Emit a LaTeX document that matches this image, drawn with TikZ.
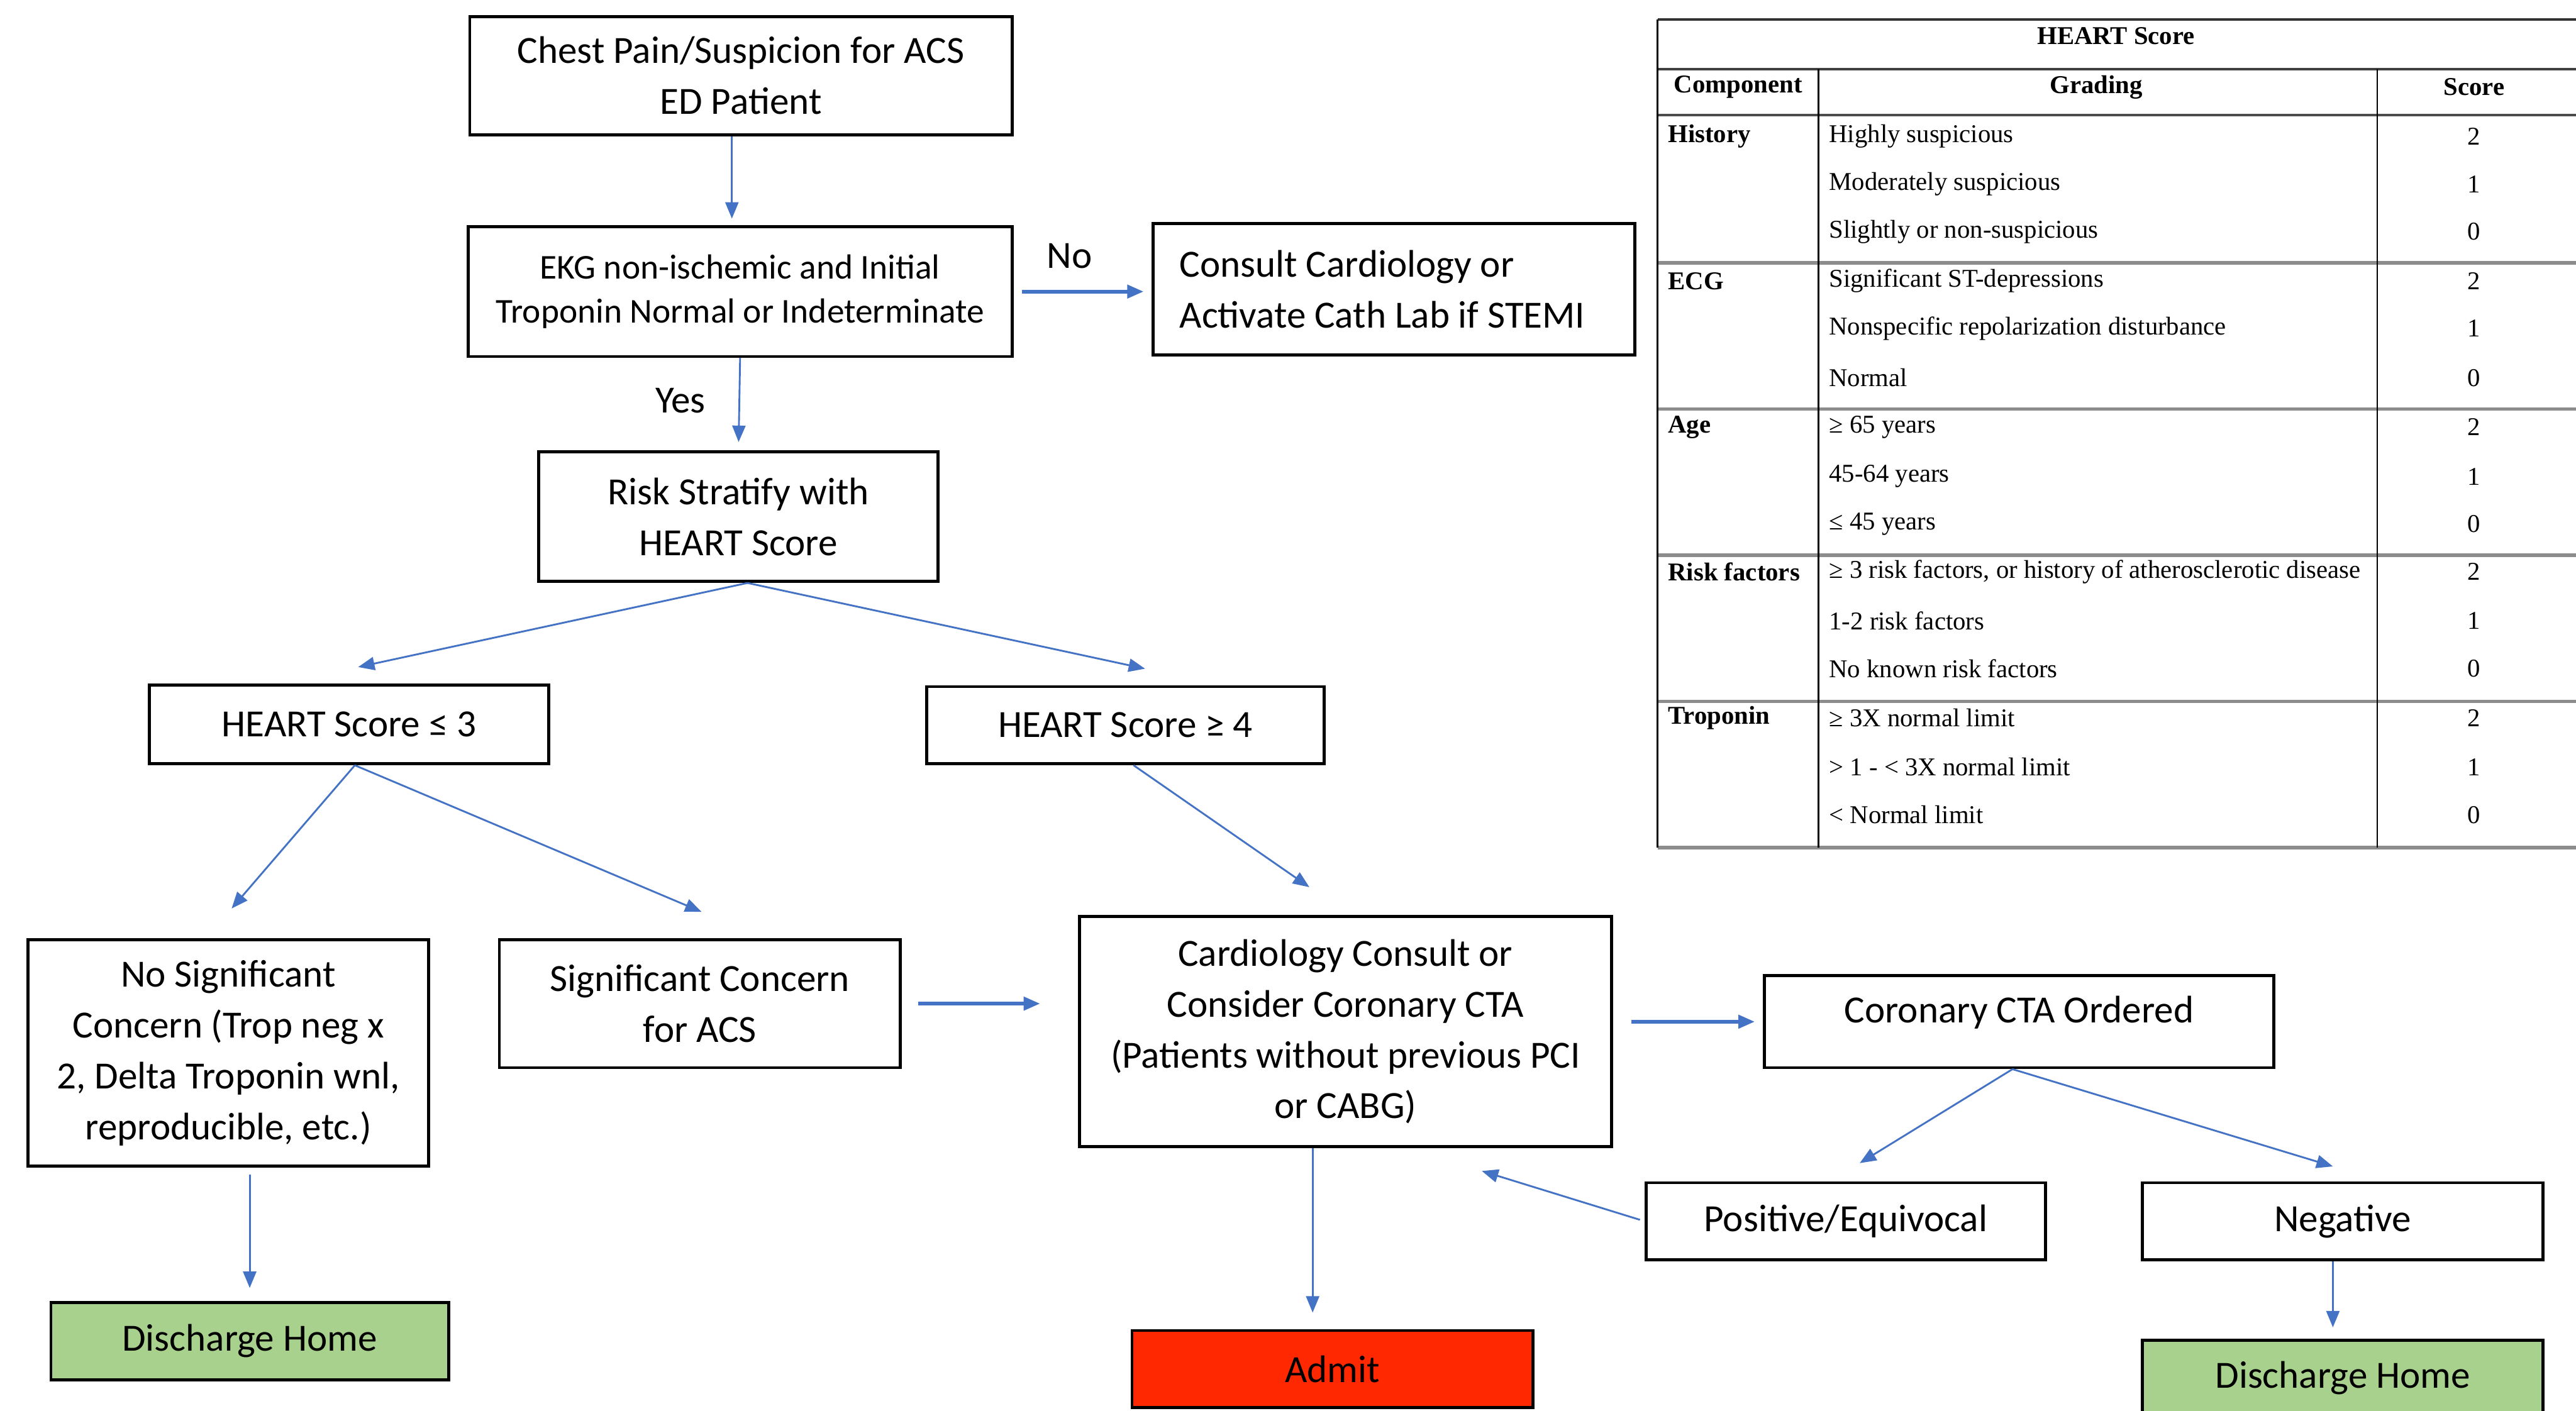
\documentclass[tikz,border=0pt]{standalone}
\usepackage{fontspec}
\setmainfont{Carlito}
\newfontfamily\tabfont{Liberation Serif}
\usepackage{xcolor}
\usetikzlibrary{positioning,calc,arrows.meta}

\definecolor{flowblue}{RGB}{68,114,196}
\definecolor{homegreen}{RGB}{169,209,142}
\definecolor{admitred}{RGB}{255,40,0}
\definecolor{rulegray}{RGB}{140,140,140}

\tikzset{
  box/.style={draw, line width=0.9pt, align=center, inner sep=0pt, font=\fontsize{11.7}{15.5}\selectfont},
  ekgfont/.style={font=\fontsize{10.6}{13.5}\selectfont},
  flow/.style={draw=flowblue, line width=0.55pt, -{Triangle[length=5pt,width=4pt]}},
  flowthick/.style={flow, line width=1.1pt},
  lbl/.style={inner sep=0pt, font=\fontsize{11.7}{15.5}\selectfont},
  tabtxt/.style={inner sep=0pt, font=\tabfont\fontsize{7.8}{9}\selectfont},
  tabhead/.style={tabtxt, font=\tabfont\bfseries\fontsize{7.8}{9}\selectfont}
}

\begin{document}
\begin{tikzpicture}[x=0.5pt, y=-0.5pt]
    \useasboundingbox (0,0) rectangle (1568,859);

    % flow chart
    \node [box, minimum width=165pt, minimum height=36pt] (start) at (451,46) {Chest Pain/Suspicion for ACS\\ED Patient};
    \node [box, ekgfont, minimum width=165.5pt, minimum height=39.5pt] (ekg) at (450.5,177.5) {EKG non-ischemic and Initial\\Troponin Normal or Indeterminate};
    \node [box, align=flush left, text width=130.5pt, inner xsep=8pt, minimum height=40pt] (consult) at (848.5,176) {Consult Cardiology or\\Activate Cath Lab if STEMI};
    \node [box, minimum width=121.5pt, minimum height=39.5pt] (risk) at (449.5,314.5) {Risk Stratify with\\HEART Score};
    \node [box, minimum width=121.5pt, minimum height=24pt] (low) at (212.5,441) {HEART Score ≤ 3};
    \node [box, minimum width=121pt, minimum height=23.5pt] (high) at (685,441.5) {HEART Score ≥ 4};
    \node [box, minimum width=122pt, minimum height=69pt] (nosig) at (139,641) {No Significant\\Concern (Trop neg x\\2, Delta Troponin wnl,\\reproducible, etc.)};
    \node [box, minimum width=122pt, minimum height=39pt] (sig) at (426,611) {Significant Concern\\for ACS};
    \node [box, minimum width=162pt, minimum height=70pt] (cardio) at (819,628) {Cardiology Consult or\\Consider Coronary CTA\\(Patients without previous PCI\\or CABG)};
    \node [box, text depth=7.5pt, minimum width=155pt, minimum height=28pt] (cta) at (1229,622) {Coronary CTA Ordered};
    \node [box, minimum width=121.5pt, minimum height=23.5pt] (pos) at (1123.5,743.5) {Positive/Equivocal};
    \node [box, minimum width=122pt, minimum height=23.5pt] (neg) at (1426,743.5) {Negative};
    \node [box, fill=homegreen, minimum width=121pt, minimum height=23.5pt] (home1) at (152,816.5) {Discharge Home};
    \node [box, fill=admitred, minimum width=122pt, minimum height=23.5pt] (admit) at (811,833.5) {Admit};
    \node [box, fill=homegreen, minimum width=122pt, minimum height=23pt] (home2) at (1426,839) {Discharge Home};

    \draw [flow, shorten >=2pt] (start.south -| ekg.north) ++(-2.5pt,0) -- ([xshift=-2.5pt]ekg.north);
    \draw [flowthick, shorten <=2.5pt, shorten >=2.5pt] (ekg.east) -- node [lbl, above=6.5pt, xshift=-4pt] (lblno) {No} (ekg.east -| consult.west);
    \draw [flow, shorten >=2.5pt] (ekg.south) -- node [lbl, left=10pt, yshift=1pt] (lblyes) {Yes} (risk.north);
    \draw [flow] ([xshift=2.75pt]risk.south) -- ([xshift=2.75pt,yshift=5pt]low.north);
    \draw [flow] ([xshift=2.75pt]risk.south) -- ([xshift=6pt,yshift=5pt]high.north);
    \draw [flow] ([xshift=1.75pt]low.south) -- ([xshift=1pt,yshift=9pt]nosig.north);
    \draw [flow] ([xshift=1.75pt]low.south) -- ([xshift=0.5pt,yshift=8pt]sig.north);
    \draw [flow] ([xshift=2.5pt]high.south) -- ([xshift=-11pt,yshift=8.5pt]cardio.north);
    \draw [flow, shorten <=2pt, shorten >=4pt] (nosig.south -| home1.north) -- (home1.north);
    \draw [flowthick, shorten <=5pt, shorten >=11.5pt] (sig.east) -- (sig.east -| cardio.west);
    \draw [flowthick, shorten <=5.5pt, shorten >=2.5pt] (cardio.east |- cta.west) -- (cta.west);
    \draw [flow] ([xshift=-2pt]cta.south) -- ([xshift=4.25pt,yshift=5.5pt]pos.north);
    \draw [flow] ([xshift=-2pt]cta.south) -- ([xshift=-3pt,yshift=4.5pt]neg.north);
    \draw [flow, shorten <=1.5pt] (pos.west) -- ([xshift=41.5pt,yshift=-7pt]cardio.south);
    \draw [flow, shorten >=5pt] ([xshift=-10pt]cardio.south) -- ([xshift=-10pt]cardio.south |- admit.north);
    \draw [flow, shorten >=3.5pt] ([xshift=-3pt]neg.south) -- ([xshift=-3pt]neg.south |- home2.north);

    % HEART score table
    \draw [line width=0.8pt, black!80] (1009,12) -- (1568,12);
    \draw [line width=0.7pt, black!75] (1009,42) -- (1568,42);
    \draw [line width=0.8pt, black!70] (1009,70) -- (1568,70);
    \draw [line width=1.1pt, rulegray] (1009,160) -- (1568,160);
    \draw [line width=1.1pt, rulegray] (1009,249) -- (1568,249);
    \draw [line width=1.1pt, rulegray] (1009,338) -- (1568,338);
    \draw [line width=1.1pt, rulegray] (1009,427) -- (1568,427);
    \draw [line width=1.3pt, rulegray] (1009,516) -- (1568,516);
    \draw [line width=0.6pt] (1009,12) -- (1009,516);
    \draw [line width=0.5pt] (1107,42) -- (1107,516);
    \draw [line width=0.5pt] (1447,42) -- (1447,516);

    \node [tabhead] (ttl) at (1288,22) {HEART Score};
    \node [tabhead] (hcomp) at (1058,53) {Component};
    \node [tabhead] (hgrad) at (1276,53) {Grading};
    \node [tabhead] (hscore) at (1506,53) {Score};

    \node [tabhead, anchor=west] (c1) at (1015,83) {History};
    \node [tabtxt, anchor=west] (g1) at (1113,83) {Highly suspicious};           \node [tabtxt] (s1) at (1506,83) {2};
    \node [tabtxt, anchor=west] (g2) at (1113,112) {Moderately suspicious};      \node [tabtxt] (s2) at (1506,112) {1};
    \node [tabtxt, anchor=west] (g3) at (1113,141) {Slightly or non-suspicious}; \node [tabtxt] (s3) at (1506,141) {0};

    \node [tabhead, anchor=west] (c2) at (1015,171) {ECG};
    \node [tabtxt, anchor=west] (g4) at (1113,171) {Significant ST-depressions};               \node [tabtxt] (s4) at (1506,171) {2};
    \node [tabtxt, anchor=west] (g5) at (1113,200) {Nonspecific repolarization disturbance};   \node [tabtxt] (s5) at (1506,200) {1};
    \node [tabtxt, anchor=west] (g6) at (1113,230) {Normal};                                   \node [tabtxt] (s6) at (1506,230) {0};

    \node [tabhead, anchor=west] (c3) at (1015,260) {Age};
    \node [tabtxt, anchor=west] (g7) at (1113,260) {≥ 65 years};  \node [tabtxt] (s7) at (1506,260) {2};
    \node [tabtxt, anchor=west] (g8) at (1113,290) {45-64 years}; \node [tabtxt] (s8) at (1506,290) {1};
    \node [tabtxt, anchor=west] (g9) at (1113,319) {≤ 45 years};  \node [tabtxt] (s9) at (1506,319) {0};

    \node [tabhead, anchor=west] (c4) at (1015,348) {Risk factors};
    \node [tabtxt, anchor=west] (g10) at (1113,348) {≥ 3 risk factors, or history of atherosclerotic disease}; \node [tabtxt] (s10) at (1506,348) {2};
    \node [tabtxt, anchor=west] (g11) at (1113,378) {1-2 risk factors};       \node [tabtxt] (s11) at (1506,378) {1};
    \node [tabtxt, anchor=west] (g12) at (1113,407) {No known risk factors};  \node [tabtxt] (s12) at (1506,407) {0};

    \node [tabhead, anchor=west] (c5) at (1015,437) {Troponin};
    \node [tabtxt, anchor=west] (g13) at (1113,437) {≥ 3X normal limit};        \node [tabtxt] (s13) at (1506,437) {2};
    \node [tabtxt, anchor=west] (g14) at (1113,467) {> 1 - < 3X normal limit};  \node [tabtxt] (s14) at (1506,467) {1};
    \node [tabtxt, anchor=west] (g15) at (1113,496) {< Normal limit};           \node [tabtxt] (s15) at (1506,496) {0};

\end{tikzpicture}
\end{document}
